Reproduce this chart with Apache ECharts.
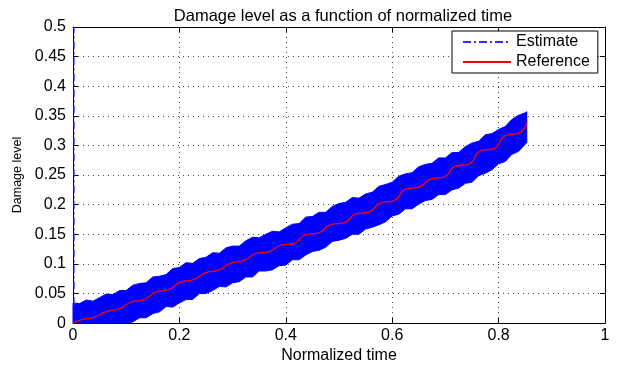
<!DOCTYPE html>
<html>
<head>
<meta charset="utf-8">
<script src="https://cdn.jsdelivr.net/npm/echarts@6/dist/echarts.min.js"></script>
<style>
  html, body { margin: 0; background: #fff; }
  #chart { width: 617px; height: 369px; }
</style>
</head>
<body>
<div id="chart"></div>
<script>
// estimate band (noisy estimate envelope)
const bandTime = [0, 0.0125, 0.025, 0.0375, 0.05, 0.0625, 0.075, 0.0875, 0.1, 0.1125, 0.125, 0.1375, 0.15, 0.1625, 0.175, 0.1875, 0.2, 0.2125, 0.225, 0.2375, 0.25, 0.2625, 0.275, 0.2875, 0.3, 0.3125, 0.325, 0.3375, 0.35, 0.3625, 0.375, 0.3875, 0.4, 0.4125, 0.425, 0.4375, 0.45, 0.4625, 0.475, 0.4875, 0.5, 0.5125, 0.525, 0.5375, 0.55, 0.5625, 0.575, 0.5875, 0.6, 0.6125, 0.625, 0.6375, 0.65, 0.6625, 0.675, 0.6875, 0.7, 0.7125, 0.725, 0.7375, 0.75, 0.7625, 0.775, 0.7875, 0.8, 0.8125, 0.825, 0.8375, 0.85, 0.853];
const estimateUpper = [0.034, 0.033, 0.039, 0.037, 0.043, 0.049, 0.048, 0.055, 0.055, 0.064, 0.067, 0.068, 0.078, 0.079, 0.082, 0.092, 0.094, 0.102, 0.101, 0.109, 0.111, 0.119, 0.118, 0.127, 0.130, 0.130, 0.139, 0.145, 0.144, 0.150, 0.155, 0.154, 0.161, 0.167, 0.168, 0.179, 0.180, 0.187, 0.187, 0.197, 0.202, 0.204, 0.212, 0.211, 0.218, 0.221, 0.231, 0.234, 0.238, 0.248, 0.252, 0.254, 0.264, 0.268, 0.270, 0.279, 0.279, 0.288, 0.288, 0.298, 0.304, 0.307, 0.318, 0.320, 0.327, 0.332, 0.344, 0.351, 0.355, 0.357];
const estimateLower = [0, 0, 0, 0, 0, 0, 0, 0, 0, 0.002, 0.009, 0.009, 0.016, 0.019, 0.028, 0.027, 0.034, 0.040, 0.040, 0.050, 0.050, 0.055, 0.062, 0.061, 0.068, 0.070, 0.078, 0.078, 0.088, 0.088, 0.090, 0.097, 0.098, 0.107, 0.107, 0.115, 0.121, 0.123, 0.128, 0.138, 0.140, 0.143, 0.150, 0.150, 0.159, 0.162, 0.166, 0.171, 0.181, 0.184, 0.193, 0.193, 0.201, 0.207, 0.209, 0.217, 0.217, 0.225, 0.228, 0.236, 0.238, 0.249, 0.253, 0.259, 0.269, 0.273, 0.285, 0.290, 0.302, 0.305];
// initial estimate spike along the left edge
const spikeTime = [0.002, 0.002];
const spikeLevel = [0.03, 0.5];
// reference damage curve
const referenceTime = [0, 0.017, 0.037, 0.064, 0.084, 0.111, 0.131, 0.158, 0.178, 0.205, 0.225, 0.252, 0.272, 0.299, 0.319, 0.346, 0.366, 0.393, 0.413, 0.440, 0.460, 0.487, 0.507, 0.534, 0.554, 0.581, 0.601, 0.628, 0.648, 0.675, 0.695, 0.722, 0.742, 0.769, 0.789, 0.816, 0.836, 0.853];
const referenceLevel = [0, 0.006, 0.009, 0.020, 0.023, 0.036, 0.039, 0.053, 0.056, 0.070, 0.073, 0.086, 0.089, 0.102, 0.105, 0.118, 0.120, 0.132, 0.134, 0.150, 0.152, 0.167, 0.169, 0.185, 0.187, 0.204, 0.206, 0.227, 0.229, 0.244, 0.246, 0.266, 0.268, 0.292, 0.294, 0.318, 0.320, 0.338];

const font = "'Liberation Sans', Arial, sans-serif";
const chart = echarts.init(document.getElementById("chart"));

function axis(position, showLabel, extra) {
  return Object.assign({
    type: "value",
    position,
    axisLine: { show: true, onZero: false, lineStyle: { color: "#000", width: 1 } },
    axisTick: { show: true, inside: true, length: 5, lineStyle: { color: "#000" } },
    axisLabel: { show: showLabel, color: "#000", fontSize: 16, fontFamily: font },
    splitLine: { show: false }
  }, extra);
}

chart.setOption({
  animation: false,
  backgroundColor: "#fff",
  title: {
    text: "Damage level as a function of normalized time",
    left: 338, top: 3, textAlign: "center",
    textStyle: { fontSize: 16.5, fontWeight: "normal", color: "#000", fontFamily: font }
  },
  legend: {
    data: ["Estimate", "Reference"],
    orient: "vertical",
    left: 452, top: 31,
    itemWidth: 48, itemHeight: 12, itemGap: 4,
    padding: [3, 8, 3, 10],
    borderColor: "#000", borderWidth: 1, backgroundColor: "#fff",
    itemStyle: { opacity: 0, borderWidth: 0 },
    textStyle: { fontSize: 16, color: "#000", fontFamily: font }
  },
  grid: { left: 73, right: 12, top: 27, bottom: 35 },
  xAxis: [
    axis("bottom", true, {
      min: 0, max: 1, interval: 0.2,
      axisLabel: { color: "#000", fontSize: 16, fontFamily: font, margin: 4 },
      splitLine: { show: true, lineStyle: { color: "#444", type: [1, 4] } },
      name: "Normalized time", nameLocation: "middle", nameGap: 18,
      nameTextStyle: { fontSize: 16, color: "#000", fontFamily: font }
    }),
    axis("top", false, { min: 0, max: 1, interval: 0.2 })
  ],
  yAxis: [
    axis("left", true, {
      min: 0, max: 0.5, interval: 0.05,
      axisLabel: { color: "#000", fontSize: 16, fontFamily: font, margin: 7 },
      splitLine: { show: true, lineStyle: { color: "#444", type: [1, 4] } },
      name: "Damage level", nameLocation: "middle", nameGap: 44, nameRotate: 90,
      nameTextStyle: { fontSize: 12.5, color: "#000", fontFamily: font }
    }),
    axis("right", false, { min: 0, max: 0.5, interval: 0.05 })
  ],
  series: [
    {
      name: "band", type: "custom", silent: true, data: [0], z: 2,
      renderItem: (params, api) => {
        const points = bandTime.map((t, i) => api.coord([t, estimateUpper[i]]));
        for (let i = bandTime.length - 1; i >= 0; i--) points.push(api.coord([bandTime[i], estimateLower[i]]));
        return { type: "polygon", shape: { points }, style: { fill: "#0000ff", stroke: "#0000ff", lineWidth: 1 } };
      }
    },
    {
      name: "Estimate", type: "line", showSymbol: false, symbol: "none", z: 3,
      data: spikeTime.map((t, i) => [t, spikeLevel[i]]),
      lineStyle: { color: "#3333ff", width: 1.2, type: [8, 3, 2, 3] },
      itemStyle: { color: "#3333ff" }
    },
    {
      name: "Reference", type: "line", showSymbol: false, symbol: "none", smooth: 0.6, z: 4,
      data: referenceTime.map((t, i) => [t, referenceLevel[i]]),
      lineStyle: { color: "#ff0000", width: 1.3 },
      itemStyle: { color: "#ff0000" }
    }
  ]
});
</script>
</body>
</html>
